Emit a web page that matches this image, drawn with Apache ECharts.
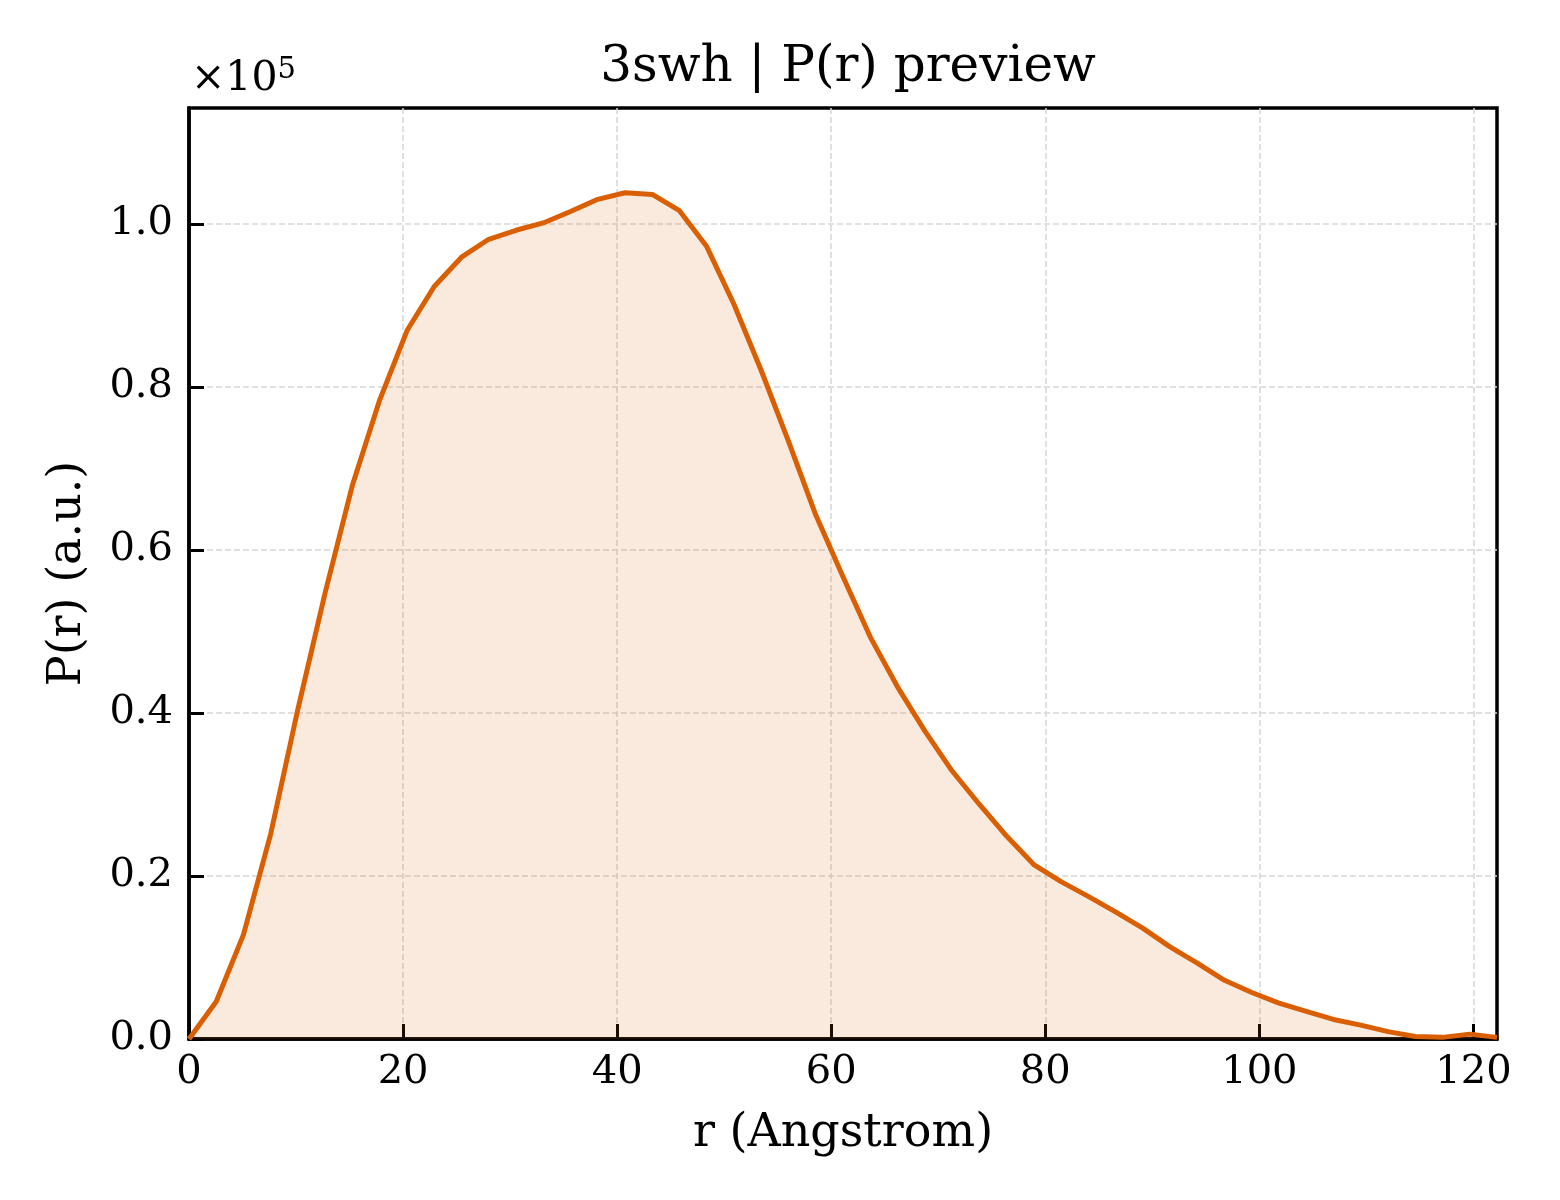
<!DOCTYPE html>
<html>
<head>
<meta charset="utf-8">
<title>3swh | P(r) preview</title>
<script src="https://cdn.jsdelivr.net/npm/echarts@6/dist/echarts.min.js"></script>
<style>
  html, body { margin: 0; padding: 0; background: #fff; }
  #graph_container { width: 1560px; height: 1200px; }
</style>
</head>
<body>
<div id="graph_container"></div>
<script>
// distance r (Angstrom)
var rData = [0, 2.55, 5.09, 7.64, 10.18, 12.73, 15.28, 17.82, 20.37, 22.91,
    25.46, 28.0, 30.55, 33.1, 35.64, 38.19, 40.73, 43.28, 45.82, 48.37,
    50.92, 53.46, 56.01, 58.55, 61.1, 63.65, 66.19, 68.74, 71.28, 73.83,
    76.38, 78.92, 81.47, 84.01, 86.56, 89.1, 91.65, 94.2, 96.74, 99.29,
    101.83, 104.38, 106.93, 109.47, 112.02, 114.56, 117.11, 119.65, 122.2];

// P(r) in a.u.
var prData = [0, 4600, 12800, 25200, 40500, 54800, 68000, 78400, 86900, 92300,
    95900, 98100, 99200, 100100, 101500, 103000, 103800, 103600, 101600, 97200,
    90100, 82000, 73300, 64300, 56700, 49300, 43200, 37800, 32900, 28800,
    24900, 21400, 19300, 17500, 15600, 13600, 11300, 9300, 7200, 5700,
    4400, 3400, 2400, 1700, 900, 300, 200, 600, 200];

var xTicks = [0, 20, 40, 60, 80, 100, 120];
var yTicks = [0, 20000, 40000, 60000, 80000, 100000];

var serif = "'DejaVu Serif', 'Liberation Serif', serif";
var lineColor = "#d95f02";

var chart = echarts.init(document.getElementById("graph_container"));

var seriesData = rData.map(function(r, i) {
    return [r, prData[i]];
});

var option = {
    animation: false,
    backgroundColor: "#fff",
    title: {
        text: "3swh | P(r) preview",
        left: 843,
        top: 38,
        textAlign: "center",
        textStyle: {
            fontFamily: serif,
            fontWeight: "normal",
            fontSize: 50,
            color: "#000"
        }
    },
    grid: {
        left: 189,
        right: 63,
        top: 108,
        bottom: 161,
        show: true,
        borderColor: "#000",
        borderWidth: 3.5,
        backgroundColor: "transparent"
    },
    graphic: [{
        type: "text",
        left: 191,
        top: 56,
        style: {
            text: "{b|×10}{s|5}",
            rich: {
                b: { fontFamily: serif, fontSize: 41, fill: "#000" },
                s: { fontFamily: serif, fontSize: 29, fill: "#000", verticalAlign: "top", padding: [0, 0, 18, 0] }
            }
        }
    }],
    xAxis: {
        type: "value",
        min: 0,
        max: 122.2,
        interval: 20,
        name: "r (Angstrom)",
        nameLocation: "middle",
        nameGap: 72,
        nameTextStyle: { fontFamily: serif, fontSize: 46, color: "#000" },
        axisLine: { show: true, lineStyle: { color: "#000", width: 3.5 } },
        axisTick: {
            show: true,
            inside: true,
            length: 15,
            customValues: xTicks,
            lineStyle: { color: "#000", width: 3 }
        },
        axisLabel: {
            customValues: xTicks,
            margin: 14,
            fontFamily: serif,
            fontSize: 40,
            color: "#000"
        },
        splitLine: {
            show: true,
            lineStyle: { color: "#d6d6d6", width: 1.5, type: [6, 3] }
        }
    },
    yAxis: {
        type: "value",
        min: 0,
        max: 114200,
        interval: 20000,
        name: "P(r) (a.u.)",
        nameLocation: "middle",
        nameGap: 98,
        nameTextStyle: { fontFamily: serif, fontSize: 46, color: "#000" },
        axisLine: { show: true, lineStyle: { color: "#000", width: 3.5 } },
        axisTick: {
            show: true,
            inside: true,
            length: 15,
            customValues: yTicks,
            lineStyle: { color: "#000", width: 3 }
        },
        axisLabel: {
            customValues: yTicks,
            margin: 16,
            fontFamily: serif,
            fontSize: 40,
            color: "#000",
            formatter: function(v) {
                return (v / 1e5).toFixed(1);
            }
        },
        splitLine: {
            show: true,
            lineStyle: { color: "#d6d6d6", width: 1.5, type: [6, 3] }
        }
    },
    series: [{
        name: "P(r)",
        type: "line",
        data: seriesData,
        showSymbol: false,
        symbol: "none",
        lineStyle: { color: lineColor, width: 5 },
        areaStyle: { color: lineColor, opacity: 0.13 },
        z: 3
    }]
};

chart.setOption(option);
</script>
</body>
</html>
